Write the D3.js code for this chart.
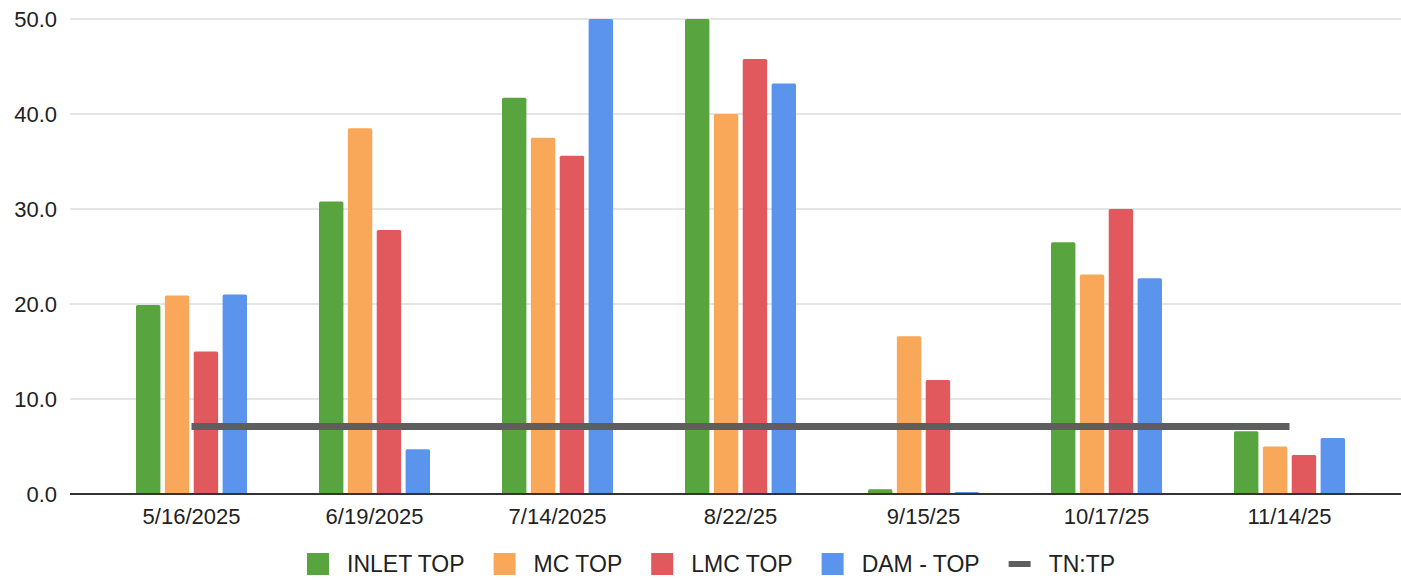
<!DOCTYPE html>
<html>
<head>
<meta charset="utf-8">
<script src="https://cdn.jsdelivr.net/npm/d3@7"></script>
<style>
  html, body { margin: 0; padding: 0; background: #fff; }
  svg { display: block; font-family: Arial, "Liberation Sans", sans-serif; }
</style>
</head>
<body>
<svg id="chart" width="1401" height="580"></svg>
<script>
// Sampling dates
const dates = ["5/16/2025", "6/19/2025", "7/14/2025", "8/22/25", "9/15/25", "10/17/25", "11/14/25"];

// Bar series
const seriesNames = ["INLET TOP", "MC TOP", "LMC TOP", "DAM - TOP"];
const inletTop = [19.9, 30.8, 41.7, 50.0, 0.5, 26.5, 6.6];
const mcTop    = [20.9, 38.5, 37.5, 40.0, 16.6, 23.1, 5.0];
const lmcTop   = [15.0, 27.8, 35.6, 45.8, 12.0, 30.0, 4.1];
const damTop   = [21.0, 4.7, 50.0, 43.2, 0.2, 22.7, 5.9];

// Reference ratio line
const lineName = "TN:TP";
const tnTp = [7.1, 7.1, 7.1, 7.1, 7.1, 7.1, 7.1];

// Y axis ticks
const yTicks = [0, 10, 20, 30, 40, 50];

const colors = ["#58a53f", "#f8a858", "#e1585d", "#5b94ec"];
const lineColor = "#5e5e5e";

const seriesValues = [inletTop, mcTop, lmcTop, damTop];

const svg = d3.select("#chart");

const plotLeft = 70, plotRight = 1401;
const x0 = d3.scaleBand()
  .domain(dates)
  .range([100, 1381])
  .paddingInner(0.369)
  .paddingOuter(0.1845);

const x1 = d3.scaleBand()
  .domain(seriesNames)
  .range([0, x0.bandwidth()])
  .paddingInner(0.155)
  .paddingOuter(0.0775);

const y = d3.scaleLinear().domain([0, 50]).range([494, 19]);

// Gridlines
svg.append("g")
  .selectAll("line")
  .data(yTicks.filter(t => t !== 0))
  .join("line")
  .attr("x1", plotLeft).attr("x2", plotRight)
  .attr("y1", d => y(d)).attr("y2", d => y(d))
  .attr("stroke", "#cbcbcb")
  .attr("stroke-width", 1.2);

// Y axis labels
const yAxis = d3.axisLeft(y).tickValues(yTicks).tickFormat(d3.format(".1f")).tickSize(0).tickPadding(0);
const yG = svg.append("g").attr("transform", "translate(57,0)").call(yAxis);
yG.select(".domain").remove();
yG.selectAll("text")
  .attr("font-size", 22)
  .attr("font-family", "Arial, 'Liberation Sans', sans-serif")
  .attr("fill", "#222");

// Bars
const groups = svg.append("g")
  .selectAll("g")
  .data(dates)
  .join("g")
  .attr("transform", d => `translate(${x0(d)},0)`);

groups.selectAll("rect")
  .data((d, i) => seriesNames.map((s, j) => ({ s, j, v: seriesValues[j][i] })))
  .join("rect")
  .attr("x", d => x1(d.s))
  .attr("width", x1.bandwidth())
  .attr("y", d => y(d.v))
  .attr("height", d => y(0) - y(d.v))
  .attr("rx", 1.5)
  .attr("fill", d => colors[d.j]);

// Baseline
svg.append("line")
  .attr("x1", plotLeft).attr("x2", plotRight)
  .attr("y1", y(0)).attr("y2", y(0))
  .attr("stroke", "#333")
  .attr("stroke-width", 2);

// TN:TP line
const line = d3.line()
  .x((d, i) => x0(dates[i]) + x0.bandwidth() / 2)
  .y(d => y(d));
svg.append("path")
  .datum(tnTp)
  .attr("d", line)
  .attr("fill", "none")
  .attr("stroke", lineColor)
  .attr("stroke-width", 7);

// X axis labels
const xAxis = d3.axisBottom(x0).tickSize(0).tickPadding(0);
const xG = svg.append("g").attr("transform", "translate(0,508)").call(xAxis);
xG.select(".domain").remove();
xG.selectAll("text")
  .attr("font-size", 22)
  .attr("font-family", "Arial, 'Liberation Sans', sans-serif")
  .attr("fill", "#222")
  .attr("dy", "0.71em");

// Legend
const legendItems = seriesNames.map((s, i) => ({ name: s, color: colors[i], type: "rect" }))
  .concat([{ name: lineName, color: lineColor, type: "line" }]);
const legend = svg.append("g");
let lx = 307;
const ly = 564;
legendItems.forEach(item => {
  const g = legend.append("g");
  if (item.type === "rect") {
    g.append("rect")
      .attr("x", lx).attr("y", ly - 11)
      .attr("width", 22).attr("height", 22)
      .attr("fill", item.color);
  } else {
    g.append("line")
      .attr("x1", lx).attr("x2", lx + 22)
      .attr("y1", ly).attr("y2", ly)
      .attr("stroke", item.color)
      .attr("stroke-width", 6);
  }
  const t = g.append("text")
    .attr("x", lx + 40).attr("y", ly)
    .attr("dy", "0.36em")
    .attr("font-size", 23)
    .attr("fill", "#222")
    .text(item.name);
  lx += 40 + t.node().getComputedTextLength() + 29;
});
</script>
</body>
</html>
